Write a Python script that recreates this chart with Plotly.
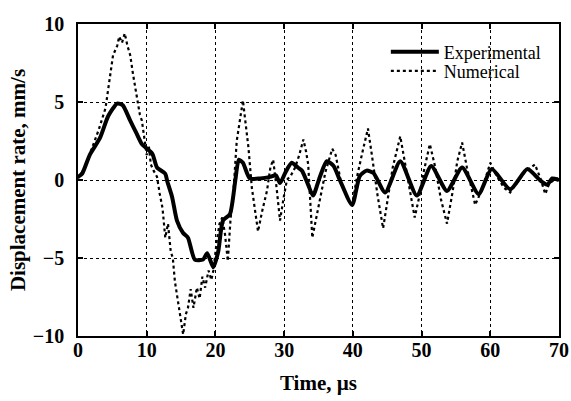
import plotly.graph_objects as go

# Experimental (time in µs, displacement rate in mm/s)
exp_t = [0, 0.6, 1.7, 3.2, 4.4, 5.7, 6.5, 7.6, 8.5, 9.3, 10.8, 11.5, 12.7, 13.0, 13.7,
         14.4, 15.3, 16.0, 17.0, 18.2, 18.8, 19.7, 20.4, 21.1, 22.1, 22.9, 23.4, 24.0,
         25.0, 26.5, 28.0, 28.8, 29.4, 30.2, 31.1, 32.0, 32.6, 33.4, 34.2, 35.2, 36.2,
         37.2, 38.1, 39.9, 41.0, 42.0, 43.0, 44.7, 46.9, 49.3, 51.4, 53.7, 55.9, 58.3,
         60.2, 62.9, 65.4, 67.2, 68.3, 69.0, 70.0]
exp_v = [0.2, 0.4, 1.6, 2.7, 4.1, 4.9, 4.8, 3.8, 3.0, 2.3, 1.7, 0.8, 0.4, -0.1, -1.1,
         -2.6, -3.4, -3.7, -5.1, -5.1, -4.7, -5.6, -4.6, -2.6, -2.2, 0.0, 1.3, 1.1,
         0.1, 0.1, 0.2, 0.3, -0.2, 0.5, 1.1, 0.8, 0.6, -0.2, -1.0, 0.2, 1.2,
         0.9, 0.0, -1.6, 0.25, 0.6, 0.45, -0.8, 1.2, -1.0, 0.9, -0.7, 0.8, -0.9,
         0.7, -0.6, 0.7, 0.0, -0.3, 0.1, 0.0]

# Numerical
num_t = [0, 1.0, 2.0, 3.0, 4.0, 4.6, 5.1, 5.7, 6.0, 6.4, 6.8, 7.2, 7.6, 8.0, 8.6, 9.0,
         9.3, 9.7, 10.0, 10.3, 10.6, 11.0, 11.5, 11.9, 12.3, 12.7, 13.1, 13.5, 13.8,
         14.1, 14.4, 14.8, 15.3, 15.7, 16.0, 16.4, 16.8, 17.3, 17.7, 18.1, 18.5, 19.0,
         19.4, 19.7, 20.2, 20.6, 21.0, 21.4, 21.8, 22.2, 22.6, 23.1, 23.6, 24.0, 24.4,
         24.8, 25.3, 25.8, 26.2, 26.8, 27.5, 28.0, 28.4, 28.9, 29.4, 29.9, 30.4, 31.0,
         31.6, 32.2, 32.8, 33.2, 33.5, 34.1, 34.6, 35.2, 36.0, 37.0, 37.5, 38.3, 39.2,
         39.9, 40.6, 41.4, 42.2, 42.8, 43.6, 44.4, 45.0, 45.8, 46.9, 47.8, 49.0, 49.6,
         50.3, 51.2, 52.0, 52.8, 53.7, 54.5, 55.2, 55.9, 56.6, 57.8, 58.8, 60.0, 61.0,
         62.0, 62.9, 64.0, 65.0, 66.5, 67.3, 68.0, 68.6, 69.7, 70.0]
num_v = [0.1, 0.8, 2.0, 3.2, 4.6, 6.5, 8.0, 8.6, 9.2, 8.8, 9.4, 8.6, 8.0, 6.8, 5.1, 4.2,
         3.8, 2.6, 1.6, 2.2, 1.0, 0.6, 0.2, -0.9, -1.8, -3.7, -2.8, -4.6, -5.0,
         -6.5, -7.3, -8.5, -9.9, -8.6, -8.2, -7.0, -8.2, -6.9, -7.6, -6.2, -6.9, -5.8,
         -6.4, -5.8, -3.9, -2.8, -2.4, -3.5, -5.2, -2.5, -0.9, 2.5, 4.0, 5.1, 3.6,
         2.1, -0.5, -2.2, -3.3, -2.0, -0.7, 0.8, 1.3, -0.5, -2.6, -1.2, 0.0, 0.3,
         0.8, 1.6, 2.6, 1.8, 1.0, -3.7, -2.6, -1.1, 0.5, 2.0, 1.6, -0.2, -1.2,
         -1.6, 0.2, 1.8, 3.3, 1.5, -1.0, -3.1, -1.5, 0.8, 2.8, 0.6, -2.4, -1.2,
         0.5, 2.3, 0.8, -1.2, -2.8, -0.8, 1.2, 2.4, 0.8, -1.6, -0.6, 1.1, 0.2,
         -0.5, -0.8, -0.1, 0.5, 1.0, 0.1, -0.9, -0.2, 0.1, 0.0]

x_ticks = [0, 10, 20, 30, 40, 50, 60, 70]
y_ticks = [-10, -5, 0, 5, 10]

FONT = "Liberation Serif"

fig = go.Figure()
fig.add_trace(go.Scatter(x=exp_t, y=exp_v, mode="lines", name="Experimental",
                         legend="legend",
                         line=dict(color="black", width=4, shape="spline", smoothing=0.6)))
fig.add_trace(go.Scatter(x=num_t, y=num_v, mode="lines", name="Numerical",
                         legend="legend2",
                         line=dict(color="black", width=2.2, dash="dot")))

axis_common = dict(showline=True, linecolor="black", linewidth=1.5, mirror="ticks",
                   ticks="inside", ticklen=5, tickcolor="black", tickwidth=1.5,
                   showgrid=True, gridcolor="black", gridwidth=1.2, griddash="dot",
                   zeroline=False, ticklabeloverflow="allow",
                   tickfont=dict(family=FONT, size=20, color="black", weight="bold"))

fig.update_xaxes(range=[0, 70], tickvals=x_ticks, ticklabelstandoff=-5,
                 title=dict(text="<b>Time, µs</b>", standoff=16,
                            font=dict(family=FONT, size=21, color="black")),
                 **axis_common)
fig.update_yaxes(range=[-10, 10], tickvals=y_ticks, ticklabelstandoff=8,
                 title=dict(text="<b>Displacement rate, mm/s</b>", standoff=1,
                            font=dict(family=FONT, size=21, color="black")),
                 **axis_common)

legend_common = dict(xanchor="left", yanchor="middle", bgcolor="rgba(0,0,0,0)",
                     borderwidth=0, itemwidth=48,
                     font=dict(family=FONT, size=18, color="black"))

fig.update_layout(
    width=571, height=401,
    margin=dict(l=78, r=12, t=24, b=65, autoexpand=False),
    paper_bgcolor="white", plot_bgcolor="white",
    showlegend=True,
    legend=dict(x=0.64, y=0.910, **legend_common),
    legend2=dict(x=0.64, y=0.849, **legend_common),
)

fig.write_html("out.html", config={"displayModeBar": False},
               post_script="document.body.style.margin='0';document.body.style.overflow='hidden';")
